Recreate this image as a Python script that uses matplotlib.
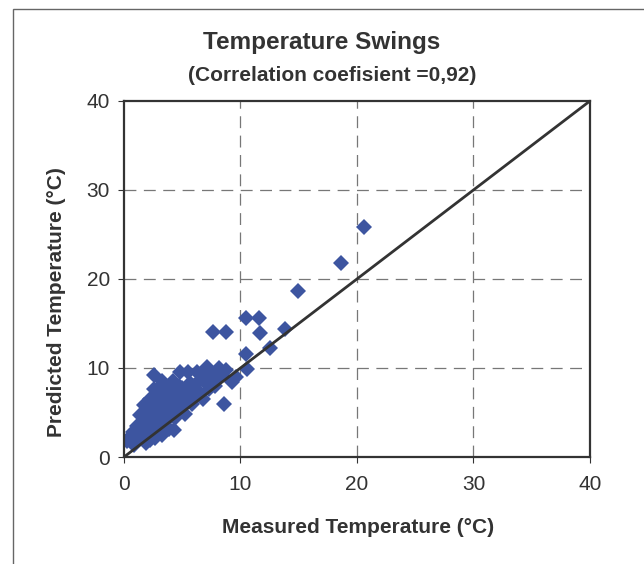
import matplotlib.pyplot as plt
from matplotlib.patches import Rectangle

plt.rcParams['font.family'] = ['Liberation Sans', 'DejaVu Sans']

# measured vs predicted temperature swings
measured = [
    0.3, 0.6, 0.8, 1.0, 1.2, 1.4, 1.6, 1.8, 1.9, 2.0,
    2.1, 2.2, 2.3, 2.4, 2.5, 2.5, 2.6, 2.7, 2.8, 2.9,
    3.0, 3.1, 3.2, 3.3, 3.3, 3.4, 3.5, 3.6, 3.7, 3.8,
    3.9, 4.0, 4.1, 4.2, 4.3, 4.4, 4.5, 4.6, 4.8, 4.9,
    5.0, 5.2, 5.3, 5.5, 5.6, 5.8, 5.9, 6.0, 6.2, 6.5,
    6.5, 6.8, 7.0, 7.1, 7.3, 7.5, 7.6, 7.8, 8.0, 8.2,
    8.4, 8.8, 9.3, 8.6, 9.6, 1.5, 2.2, 3.0, 4.7, 6.3,
    7.6, 8.8, 10.5, 11.6, 11.7, 10.5, 10.6, 12.5, 13.8, 14.9,
    18.6, 20.6, 1.1, 1.7, 2.6, 3.6, 4.1, 5.1, 5.7, 6.9,
    0.9, 2.0,
]
predicted = [
    1.8, 2.4, 2.8, 1.9, 2.2, 4.7, 3.4, 2.6, 1.6, 4.0,
    5.2, 1.9, 3.0, 6.0, 4.3, 6.6, 9.2, 2.1, 5.5, 3.6,
    6.4, 4.8, 7.0, 8.5, 2.5, 5.8, 3.9, 6.9, 4.6, 7.5,
    3.2, 5.3, 6.2, 8.5, 3.0, 4.4, 7.2, 5.6, 9.6, 6.4,
    7.8, 4.8, 6.9, 9.6, 7.4, 5.9, 6.4, 8.0, 7.0, 8.7,
    7.2, 6.5, 8.3, 10.1, 7.6, 9.4, 9.0, 8.0, 8.8, 10.0,
    9.2, 9.8, 8.4, 6.0, 9.0, 3.3, 6.5, 7.8, 8.0, 9.5,
    14.0, 14.0, 15.6, 15.6, 13.9, 11.6, 9.9, 12.2, 14.4, 18.7,
    21.8, 25.8, 3.5, 5.8, 7.6, 5.1, 7.9, 5.9, 8.3, 9.2,
    1.4, 2.9,
]
ticks = [0, 10, 20, 30, 40]

fig = plt.figure(figsize=(6.44, 5.64), dpi=100)
# outer chart frame, open on the right and bottom edges of the crop
fig.patches.append(Rectangle((13 / 644, -0.05), 0.99, 1.05 - 9 / 564,
                             transform=fig.transFigure, fill=False,
                             edgecolor='#666666', linewidth=1.0))

ax = fig.add_axes([0.1925, 0.1897, 0.7236, 0.6313])
ax.set_xlim(0, 40)
ax.set_ylim(0, 40)
ax.set_xticks(ticks)
ax.set_yticks(ticks)
ax.tick_params(axis='both', labelsize=15, colors='#333333', length=4,
               direction='out')
ax.tick_params(axis='x', pad=9)
ax.tick_params(axis='y', pad=6)

for v in ticks[1:-1]:
    ax.axvline(v, color='#777777', linestyle=(0, (9.5, 6)), linewidth=0.9, zorder=0)
    ax.axhline(v, color='#777777', linestyle=(0, (9.5, 6)), linewidth=0.9, zorder=0)

for side in ax.spines.values():
    side.set_color('#333333')
    side.set_linewidth(1.6)

ax.plot([0, 40], [0, 40], color='#333333', linewidth=2, zorder=3)
ax.plot(measured, predicted, 'D', color='#3D55A0', markersize=8.5,
        markeredgewidth=0, zorder=2)

fig.text(0.5, 0.9255, 'Temperature Swings', ha='center', va='center',
         fontsize=17.5, fontweight='bold', color='#333333')
fig.text(0.5155, 0.867, '(Correlation coefisient =0,92)', ha='center', va='center',
         fontsize=15, fontweight='bold', color='#333333')
fig.text(0.556, 0.0656, 'Measured Temperature (°C)', ha='center', va='center',
         fontsize=15, fontweight='bold', color='#333333')
fig.text(0.0885, 0.4645, 'Predicted Temperature (°C)', ha='center', va='center',
         rotation=90, fontsize=15, fontweight='bold', color='#333333')

fig.savefig('out.png', dpi=100)
